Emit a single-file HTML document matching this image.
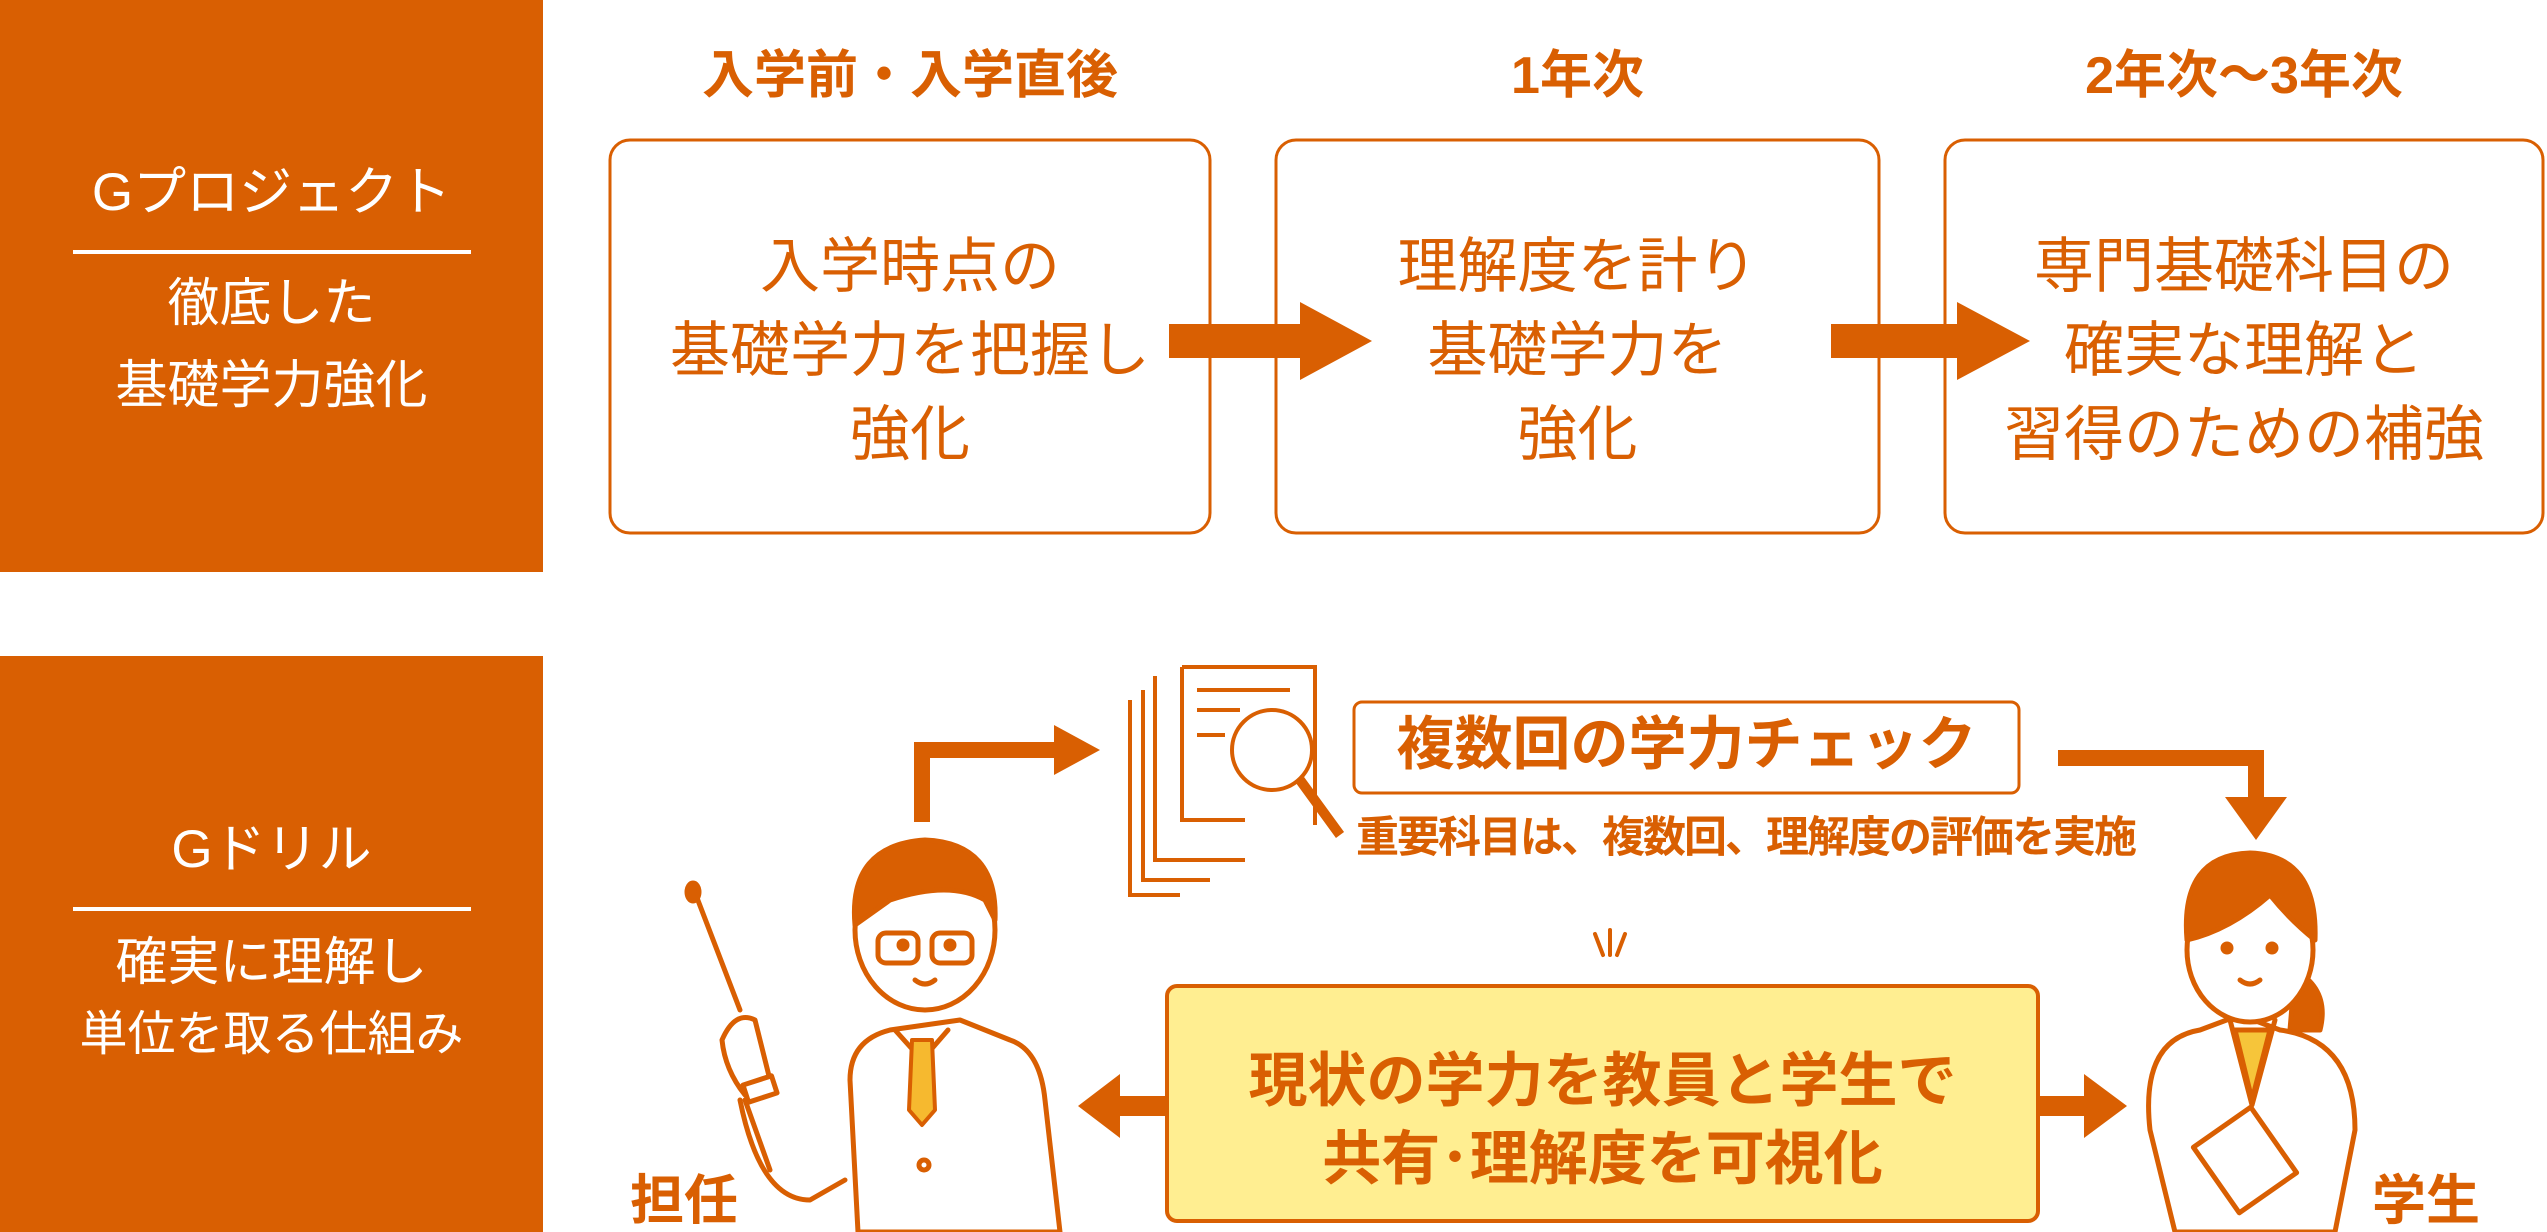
<!DOCTYPE html>
<html><head><meta charset="utf-8"><style>
html,body{margin:0;padding:0;background:#fff}
body{width:2547px;height:1232px;position:relative;overflow:hidden;font-family:"Liberation Sans","Noto Sans CJK JP",sans-serif;color:#D95F02}
.t{position:absolute;white-space:nowrap;text-align:center;line-height:1}
.w{color:#fff}
.b{font-weight:bold}
</style></head><body>
<svg width="2547" height="1232" style="position:absolute;left:0;top:0">
<g fill="#D95F02">
<rect x="0" y="0" width="543" height="572"/>
<rect x="0" y="656" width="543" height="576"/>
</g>
<rect x="73" y="250" width="398" height="4" fill="#fff"/>
<rect x="73" y="907" width="398" height="4" fill="#fff"/>
<g fill="none" stroke="#D95F02" stroke-width="3">
<rect x="610" y="140" width="600" height="393" rx="20"/>
<rect x="1276" y="140" width="603" height="393" rx="20"/>
<rect x="1945" y="140" width="598" height="393" rx="20"/>
<rect x="1354" y="702" width="665" height="91" rx="8"/>
</g>
<rect x="1167" y="986" width="871" height="235" rx="10" fill="#FFEE91" stroke="#D95F02" stroke-width="4"/>
<g fill="#D95F02">
<rect x="1169" y="324" width="133" height="34"/><polygon points="1300,302 1372,341 1300,380"/>
<rect x="1831" y="324" width="128" height="34"/><polygon points="1957,302 2030,341 1957,380"/>
<rect x="914" y="742" width="16" height="80"/><rect x="914" y="742" width="142" height="16"/><polygon points="1054,725 1100,750 1054,775"/>
<rect x="2058" y="750" width="205" height="16"/><rect x="2248" y="750" width="16" height="50"/><polygon points="2225,797 2287,797 2256,840"/>
<rect x="1118" y="1096" width="50" height="20"/><polygon points="1120,1074 1078,1106 1120,1138"/>
<rect x="2036" y="1096" width="50" height="20"/><polygon points="2084,1074 2127,1106 2084,1138"/>
</g>
<g stroke="#D95F02" stroke-width="4" fill="none" stroke-linecap="round">
<line x1="1595" y1="934" x2="1603" y2="955"/><line x1="1610" y1="930" x2="1610" y2="955"/><line x1="1625" y1="934" x2="1617" y2="955"/>
</g>
<g stroke="#D95F02" stroke-width="4" fill="#fff">
<polyline points="1130,700 1130,895 1180,895" fill="none"/>
<path d="M1143,690 V880 H1210" fill="none"/>
<path d="M1155,676 V860 H1245" fill="none"/>
<path d="M1182,667 H1315 V825" fill="none"/>
<path d="M1182,667 V820 H1245" fill="none"/>
<line x1="1197" y1="690" x2="1290" y2="690"/>
<line x1="1197" y1="710" x2="1240" y2="710"/>
<line x1="1197" y1="735" x2="1225" y2="735"/>
<circle cx="1272" cy="750" r="40"/>
<path d="M1300,780 L1340,835" stroke-width="10"/>
</g>
<g stroke="#D95F02" stroke-width="5" fill="#fff" stroke-linejoin="round" stroke-linecap="round">
<line x1="694" y1="890" x2="740" y2="1010"/>
<ellipse cx="693" cy="892" rx="6" ry="9" fill="#D95F02"/>
<path d="M858,1232 L850,1080 Q850,1040 890,1030 L960,1020 L1010,1040 Q1040,1050 1045,1100 L1060,1232 Z"/>
<path d="M740,1100 Q760,1200 810,1200 L845,1180" fill="none"/>
<path d="M745,1100 L770,1170" fill="none"/>
<path d="M722,1040 Q735,1010 755,1020 L770,1080 L745,1095 Q725,1070 722,1040 Z"/>
<rect x="745" y="1080" width="30" height="18" transform="rotate(-18 760 1089)"/>
<path d="M895,1030 L922,1060 L948,1030" fill="none"/>
<polygon points="912,1040 932,1040 935,1110 922,1125 909,1110" fill="#F6B92F" stroke-width="4"/>
<ellipse cx="925" cy="930" rx="70" ry="80"/>
<path d="M855,925 Q848,845 925,840 Q998,843 995,920 L985,900 Q950,880 890,900 Z" fill="#D95F02"/>
<rect x="878" y="933" width="40" height="30" rx="8" fill="none"/>
<rect x="932" y="933" width="40" height="30" rx="8" fill="none"/>
<circle cx="903" cy="945" r="4" fill="#D95F02"/><circle cx="950" cy="945" r="4" fill="#D95F02"/>
<path d="M915,980 Q925,988 935,980" fill="none"/>
<circle cx="924" cy="1165" r="5"/>
</g>
<g stroke="#D95F02" stroke-width="5" fill="#fff" stroke-linejoin="round" stroke-linecap="round">
<path d="M2295,970 Q2330,990 2320,1030 L2290,1030 Z" fill="#D95F02"/>
<path d="M2175,1232 L2150,1130 Q2140,1040 2200,1030 L2240,1015 L2280,1030 Q2355,1040 2355,1130 L2335,1232 Z"/>
<polygon points="2235,1030 2270,1030 2252,1100" fill="#F6C53A"/>
<path d="M2230,1020 L2252,1105 L2275,1020" fill="none"/>
<rect x="2210" y="1120" width="70" height="80" transform="rotate(-35 2245 1160)"/>
<ellipse cx="2250" cy="950" rx="63" ry="72"/>
<path d="M2187,940 Q2180,855 2250,853 Q2318,855 2315,940 Q2290,920 2270,895 Q2230,930 2187,940 Z" fill="#D95F02"/>
<circle cx="2227" cy="948" r="4" fill="#D95F02"/><circle cx="2272" cy="948" r="4" fill="#D95F02"/>
<path d="M2240,980 Q2250,988 2260,980" fill="none"/>
</g>
</svg>
<div class="t w" style="left:0;width:543px;top:166px;font-size:53px">Gプロジェクト</div>
<div class="t w" style="left:0;width:543px;top:278px;font-size:52px">徹底した</div>
<div class="t w" style="left:0;width:543px;top:360px;font-size:52px">基礎学力強化</div>
<div class="t w" style="left:0;width:543px;top:823px;font-size:53px">Gドリル</div>
<div class="t w" style="left:0;width:543px;top:937px;font-size:52px">確実に理解し</div>
<div class="t w" style="left:0;width:543px;top:1011px;font-size:48px">単位を取る仕組み</div>
<div class="t b" style="left:610px;width:600px;top:50px;font-size:52px">入学前・入学直後</div>
<div class="t b" style="left:1276px;width:603px;top:50px;font-size:52px">1年次</div>
<div class="t b" style="left:1945px;width:598px;top:50px;font-size:52px">2年次～3年次</div>
<div class="t" style="left:610px;width:600px;top:225px;font-size:60px;line-height:84px">入学時点の<br>基礎学力を把握し<br>強化</div>
<div class="t" style="left:1276px;width:603px;top:225px;font-size:60px;line-height:84px">理解度を計り<br>基礎学力を<br>強化</div>
<div class="t" style="left:1945px;width:598px;top:225px;font-size:60px;line-height:84px">専門基礎科目の<br>確実な理解と<br>習得のための補強</div>
<div class="t b" style="left:1354px;width:665px;top:716px;font-size:58px">複数回の学力チェック</div>
<div class="t b" style="left:1356px;top:817px;font-size:43px;letter-spacing:-2px">重要科目は、複数回、理解度の評価を実施</div>
<div class="t b" style="left:1167px;width:871px;top:1042px;font-size:59px;line-height:78px">現状の学力を教員と学生で<br>共有･理解度を可視化</div>
<div class="t b" style="left:630px;top:1174px;font-size:54px">担任</div>
<div class="t b" style="left:2372px;top:1174px;font-size:54px">学生</div>
</body></html>
